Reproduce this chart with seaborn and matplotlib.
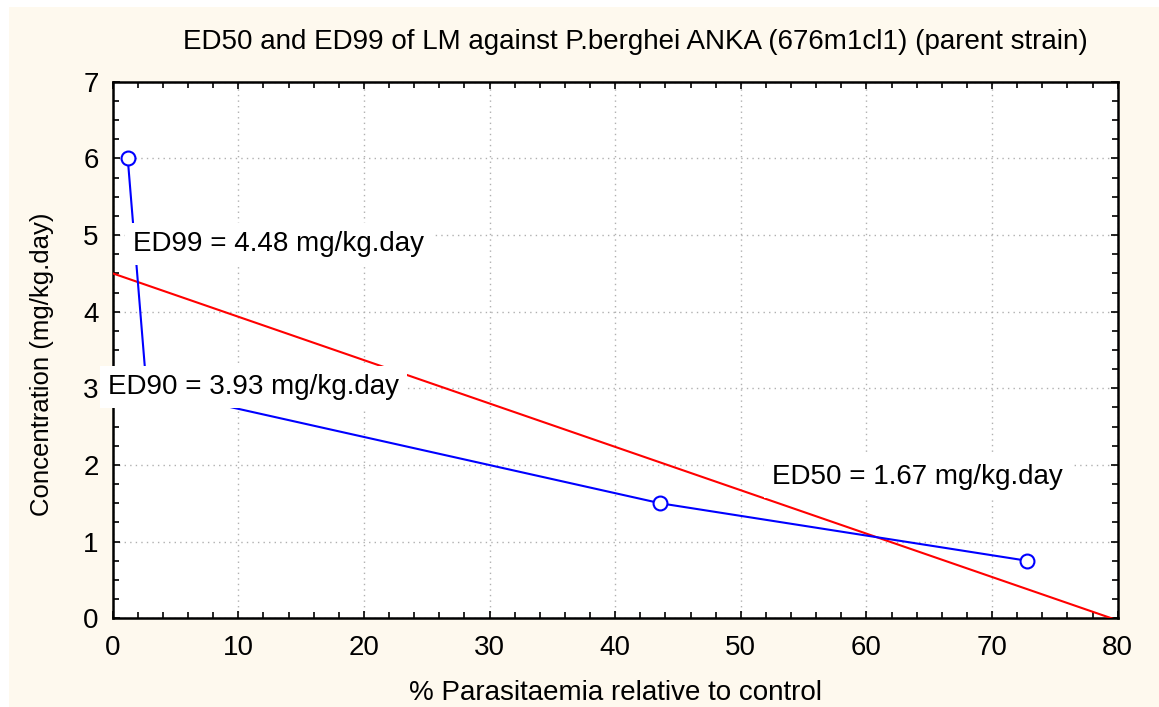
import matplotlib
matplotlib.use("Agg")
import matplotlib.pyplot as plt
import seaborn as sns
import numpy as np
import pandas as pd
from matplotlib.patches import Rectangle
from matplotlib.ticker import MultipleLocator

# Data
parasitaemia = [1.2, 2.7, 43.6, 72.8]
concentration = [6.0, 3.0, 1.5, 0.75]
fit_intercept = 4.50
fit_slope = -0.0566
fit_x = [0, 80]
labels = ["ED99 = 4.48 mg/kg.day", "ED90 = 3.93 mg/kg.day", "ED50 = 1.67 mg/kg.day"]
label_pos = [(1.6, 4.88), (-0.35, 3.02), (52.5, 1.84)]

title = "ED50 and ED99 of LM against P.berghei ANKA (676m1cl1) (parent strain)"
xlabel = "% Parasitaemia relative to control"
ylabel = "Concentration (mg/kg.day)"

sns.set_theme(style="white")
plt.rcParams['font.family'] = ['Liberation Sans', 'DejaVu Sans']
plt.rcParams['text.color'] = 'black'
plt.rcParams['axes.labelcolor'] = 'black'
plt.rcParams['xtick.color'] = 'black'
plt.rcParams['ytick.color'] = 'black'

fig = plt.figure(figsize=(11.59, 7.07), dpi=100, facecolor="white")
fig.patches.append(Rectangle((9/1159, 0), 1 - 9/1159, 1 - 7/707, transform=fig.transFigure,
                             facecolor="#FEF9EE", edgecolor="none", zorder=-10))
ax = fig.add_axes([0.0972, 0.1255, 0.9644 - 0.0972, 0.8844 - 0.1255])
ax.set_facecolor("white")

df = pd.DataFrame({"x": parasitaemia, "y": concentration})
fx = np.array(fit_x, dtype=float)
fit_df = pd.DataFrame({"x": fx, "y": fit_intercept + fit_slope * fx})

sns.lineplot(data=fit_df, x="x", y="y", ax=ax, color="red", lw=1.5, zorder=3)
sns.lineplot(data=df, x="x", y="y", ax=ax, color="blue", lw=1.5, marker="o",
             markersize=10, markerfacecolor="white", markeredgecolor="blue",
             markeredgewidth=1.5, zorder=4, sort=False)

for txt, (tx, ty) in zip(labels, label_pos):
    ax.text(tx, ty, txt, fontsize=20, ha="left", va="center", color="black", zorder=6,
            clip_on=False,
            bbox=dict(boxstyle="square,pad=0.28", facecolor="white", edgecolor="none"))

ax.set_xlim(0, 80)
ax.set_ylim(0, 7)
ax.xaxis.set_major_locator(MultipleLocator(10))
ax.xaxis.set_minor_locator(MultipleLocator(2))
ax.yaxis.set_major_locator(MultipleLocator(1))
ax.yaxis.set_minor_locator(MultipleLocator(0.25))
ax.tick_params(which="both", direction="in", top=True, right=True, bottom=True, left=True,
               length=4, width=1.2, color="black", labelsize=20, labelcolor="black")
ax.tick_params(which="major", length=5)
ax.tick_params(axis="x", pad=12)
ax.tick_params(axis="y", pad=10)
ax.grid(True, which="major", color="#b0b0b0", linestyle=(0, (1, 3)), lw=1, zorder=0)
for s in ax.spines.values():
    s.set_color("black")
    s.set_linewidth(1.8)

ax.set_xlabel(xlabel, fontsize=20, labelpad=14, color="black")
ax.set_ylabel("")
fig.text(42/1159, 1 - 364/707, ylabel, fontsize=18.5, rotation=90, ha="center", va="center",
         color="black")
fig.text(635/1159, 1 - 42/707, title, fontsize=20, ha="center", va="center", color="black")

fig.savefig("out.png", dpi=100, facecolor=fig.get_facecolor())
